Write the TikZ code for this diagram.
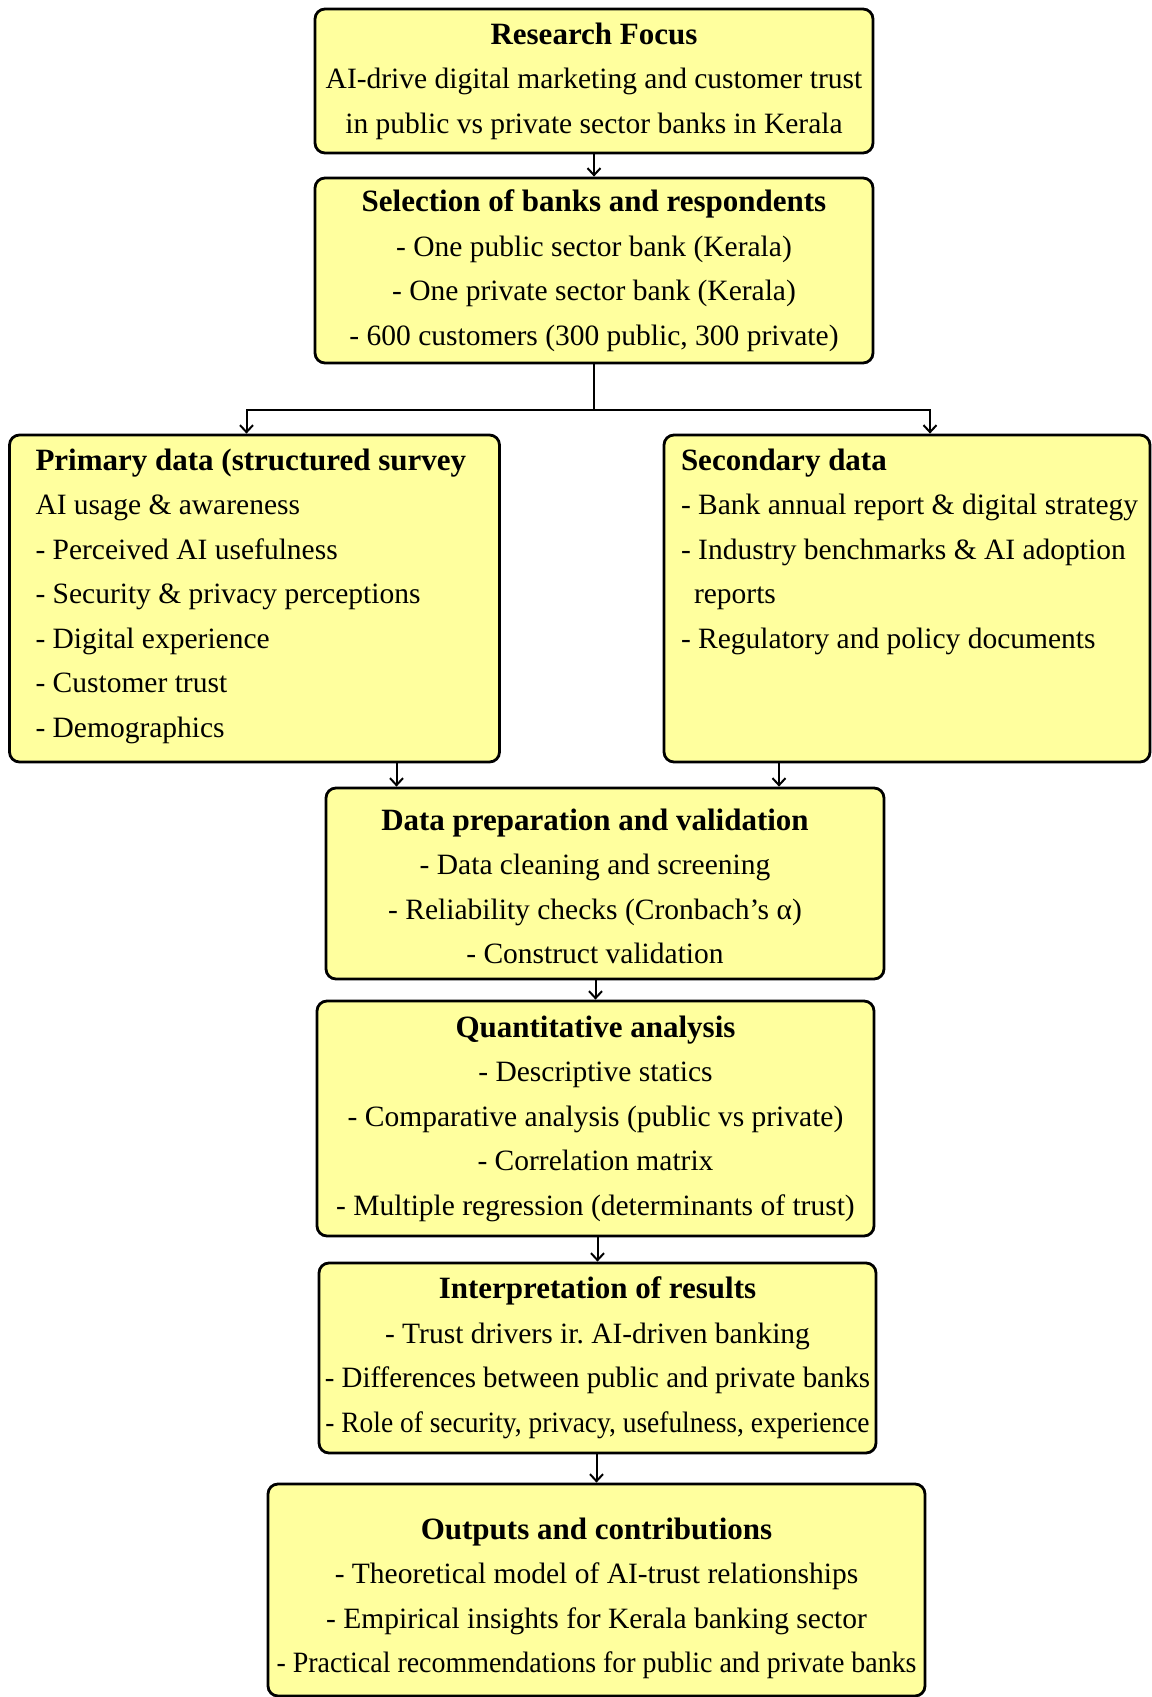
\documentclass[tikz,border=0pt]{standalone}
\usepackage{fontspec}
\setmainfont{Liberation Serif}
\usetikzlibrary{arrows.meta}
\definecolor{boxyellow}{RGB}{255,255,158}
\newcommand{\hd}[1]{{\fontsize{31}{44.5}\selectfont\bfseries #1}}
\newcommand{\squeeze}[2]{\scalebox{#1}[1]{#2}}
\begin{document}
\begin{tikzpicture}[x=1pt, y=-1pt,
    box/.style={draw, rounded corners=10pt, line width=2.8pt, fill=boxyellow,
                align=center, inner sep=2pt, font=\fontsize{29.5}{44.5}\selectfont},
    sidebox/.style={box, inner xsep=0pt, inner ysep=4pt},
    link/.style={line width=2pt},
    arr/.style={link, -{Straight Barb[length=7pt,width=13pt]}}]
    \useasboundingbox (0,0) rectangle (1151,1697);

    \node[box, minimum width=558pt, minimum height=144pt] (focus) at (594, 81)
        {\hd{Research Focus}\\AI-drive digital marketing and customer trust\\in public vs private sector banks in Kerala};
    \node[box, minimum width=558pt, minimum height=185pt] (select) at (594, 270.5)
        {\hd{Selection of banks and respondents}\\- One public sector bank (Kerala)\\- One private sector bank (Kerala)\\- 600 customers (300 public, 300 private)};

    % two data sources side by side
    \node[sidebox] (prim) at (254.5, 598.5)
        {\parbox[t][319pt][t]{490pt}{\raggedright\leftskip=26pt\strut\hd{Primary data (structured survey}\\AI usage \& awareness\\- Perceived AI usefulness\\- Security \& privacy perceptions\\- Digital experience\\- Customer trust\\- Demographics}};
    \node[sidebox] (sec) at (907, 598.5)
        {\parbox[t][319pt][t]{486pt}{\raggedright\leftskip=17pt\strut\hd{Secondary data}\\- Bank annual report \& digital strategy\\- Industry benchmarks \& AI adoption\\\hspace*{13pt}reports\\- Regulatory and policy documents}};

    % text of this box sits a little left of its centre
    \node[box, minimum width=558pt, minimum height=191pt] (prep) at (605, 883.5)
        {\raisebox{-4.5pt}[\height][\depth]{\begin{tabular}{@{}c@{}}\hd{Data preparation and validation}\\- Data cleaning and screening\\- Reliability checks (Cronbach's α)\\- Construct validation\end{tabular}}\hspace*{20pt}};
    \node[box, minimum width=557pt, minimum height=235pt] (quant) at (595.5, 1118.5)
        {\hd{Quantitative analysis}\\- Descriptive statics\\- Comparative analysis (public vs private)\\- Correlation matrix\\- Multiple regression (determinants of trust)};
    \node[box, minimum width=557pt, minimum height=190pt] (interp) at (597.5, 1358)
        {\hd{Interpretation of results}\\- Trust drivers ir.\ AI-driven banking\\\squeeze{0.98}{- Differences between public and private banks}\\\squeeze{0.93}{- Role of security, privacy, usefulness, experience}};
    \node[box, minimum width=657pt, minimum height=212pt] (out) at (596.5, 1590)
        {\raisebox{-7pt}[\height][\depth]{\begin{tabular}{@{}c@{}}\hd{Outputs and contributions}\\- Theoretical model of AI-trust relationships\\- Empirical insights for Kerala banking sector\\\squeeze{0.947}{- Practical recommendations for public and private banks}\end{tabular}}};

    % connectors
    \foreach \a/\b in {focus/select, prep/quant, quant/interp, interp/out}
        \draw[arr] (\b.north |- \a.south) -- (\b.north);
    \coordinate (split) at (594, 410);
    \draw[link] (select) -- (split);
    \draw[arr] (split) -| ([xshift=-8pt]prim.north);
    \draw[arr] (split) -| ([xshift=23pt]sec.north);
    \draw[arr] ([xshift=142pt]prim.south) -- ([xshift=142pt]prim.south |- prep.north);
    \draw[arr] ([xshift=-128pt]sec.south) -- ([xshift=-128pt]sec.south |- prep.north);
\end{tikzpicture}
\end{document}
